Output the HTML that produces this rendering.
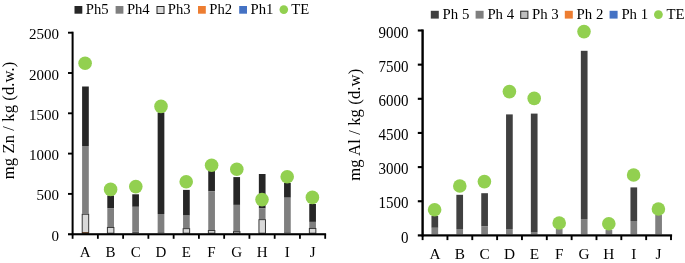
<!DOCTYPE html>
<html><head><meta charset="utf-8"><title>Charts</title>
<style>
html,body{margin:0;padding:0;background:#fff;}
body{width:685px;height:263px;overflow:hidden;font-family:'Liberation Serif', serif;}
svg{display:block;}
svg text{font-family:"Liberation Serif",serif;fill:#000;}
</style></head><body>
<svg width="685" height="263" viewBox="0 0 685 263">
<rect x="0" y="0" width="685" height="263" fill="#ffffff"/>
<rect x="74.50" y="6.00" width="7.80" height="7.70" fill="#262626"/>
<rect x="115.60" y="6.00" width="7.80" height="7.70" fill="#7f7f7f"/>
<rect x="157.00" y="6.5" width="7" height="7" fill="#d9d9d9" stroke="#262626" stroke-width="1"/>
<rect x="198.00" y="6.00" width="7.80" height="7.70" fill="#ed7d31"/>
<rect x="239.20" y="6.00" width="7.80" height="7.70" fill="#4472c4"/>
<circle cx="283.80" cy="9.60" r="4.30" fill="#92d050"/>
<rect x="82.10" y="86.50" width="6.70" height="59.50" fill="#262626"/>
<rect x="82.10" y="146.00" width="6.70" height="67.80" fill="#7f7f7f"/>
<rect x="82.20" y="214.25" width="6.50" height="18.95" fill="#d9d9d9" stroke="#303030" stroke-width="0.95"/>
<rect x="107.30" y="195.50" width="6.70" height="12.60" fill="#262626"/>
<rect x="107.30" y="208.10" width="6.70" height="18.90" fill="#7f7f7f"/>
<rect x="107.40" y="227.45" width="6.50" height="5.75" fill="#d9d9d9" stroke="#303030" stroke-width="0.95"/>
<rect x="132.25" y="194.30" width="6.70" height="12.50" fill="#262626"/>
<rect x="132.25" y="206.80" width="6.70" height="24.80" fill="#7f7f7f"/>
<rect x="132.25" y="231.60" width="6.70" height="1.60" fill="#555555"/>
<rect x="157.65" y="112.40" width="6.70" height="101.60" fill="#262626"/>
<rect x="157.65" y="214.00" width="6.70" height="18.20" fill="#7f7f7f"/>
<rect x="157.65" y="232.20" width="6.70" height="1.00" fill="#555555"/>
<rect x="183.05" y="189.90" width="6.70" height="25.70" fill="#262626"/>
<rect x="183.05" y="215.60" width="6.70" height="12.60" fill="#7f7f7f"/>
<rect x="183.15" y="228.65" width="6.50" height="4.55" fill="#d9d9d9" stroke="#303030" stroke-width="0.95"/>
<rect x="208.25" y="171.00" width="6.70" height="20.40" fill="#262626"/>
<rect x="208.25" y="191.40" width="6.70" height="38.70" fill="#7f7f7f"/>
<rect x="208.35" y="230.55" width="6.50" height="2.65" fill="#d9d9d9" stroke="#303030" stroke-width="0.95"/>
<rect x="233.35" y="177.10" width="6.70" height="27.80" fill="#262626"/>
<rect x="233.35" y="204.90" width="6.70" height="26.30" fill="#7f7f7f"/>
<rect x="233.45" y="231.65" width="6.50" height="1.55" fill="#d9d9d9" stroke="#303030" stroke-width="0.95"/>
<rect x="258.85" y="174.00" width="6.70" height="34.40" fill="#262626"/>
<rect x="258.85" y="208.40" width="6.70" height="10.80" fill="#7f7f7f"/>
<rect x="258.95" y="219.65" width="6.50" height="13.55" fill="#d9d9d9" stroke="#303030" stroke-width="0.95"/>
<rect x="284.05" y="183.00" width="6.70" height="14.70" fill="#262626"/>
<rect x="284.05" y="197.70" width="6.70" height="34.50" fill="#7f7f7f"/>
<rect x="284.05" y="232.20" width="6.70" height="1.00" fill="#555555"/>
<rect x="309.25" y="204.00" width="6.70" height="17.90" fill="#262626"/>
<rect x="309.25" y="221.90" width="6.70" height="6.10" fill="#7f7f7f"/>
<rect x="309.35" y="228.45" width="6.50" height="4.75" fill="#d9d9d9" stroke="#303030" stroke-width="0.95"/>
<rect x="82.10" y="232.30" width="6.70" height="0.90" fill="#4a2000"/>
<rect x="71.60" y="31.70" width="2.00" height="203.50" fill="#000"/>
<rect x="68.00" y="233.20" width="258.10" height="2.10" fill="#000"/>
<rect x="68.00" y="192.95" width="4.60" height="1.90" fill="#000"/>
<rect x="68.00" y="152.65" width="4.60" height="1.90" fill="#000"/>
<rect x="68.00" y="112.35" width="4.60" height="1.90" fill="#000"/>
<rect x="68.00" y="72.05" width="4.60" height="1.90" fill="#000"/>
<rect x="68.00" y="31.75" width="4.60" height="1.90" fill="#000"/>
<rect x="71.70" y="234.20" width="1.80" height="4.60" fill="#000"/>
<rect x="96.96" y="234.20" width="1.80" height="4.60" fill="#000"/>
<rect x="122.22" y="234.20" width="1.80" height="4.60" fill="#000"/>
<rect x="147.48" y="234.20" width="1.80" height="4.60" fill="#000"/>
<rect x="172.74" y="234.20" width="1.80" height="4.60" fill="#000"/>
<rect x="198.00" y="234.20" width="1.80" height="4.60" fill="#000"/>
<rect x="223.26" y="234.20" width="1.80" height="4.60" fill="#000"/>
<rect x="248.52" y="234.20" width="1.80" height="4.60" fill="#000"/>
<rect x="273.78" y="234.20" width="1.80" height="4.60" fill="#000"/>
<rect x="299.04" y="234.20" width="1.80" height="4.60" fill="#000"/>
<rect x="324.30" y="234.20" width="1.80" height="4.60" fill="#000"/>
<circle cx="85.10" cy="63.20" r="6.80" fill="#92d050"/>
<circle cx="110.60" cy="189.40" r="6.80" fill="#92d050"/>
<circle cx="135.80" cy="186.60" r="6.80" fill="#92d050"/>
<circle cx="161.00" cy="106.40" r="6.80" fill="#92d050"/>
<circle cx="186.20" cy="181.80" r="6.80" fill="#92d050"/>
<circle cx="211.60" cy="165.20" r="6.80" fill="#92d050"/>
<circle cx="236.80" cy="169.20" r="6.80" fill="#92d050"/>
<circle cx="262.00" cy="199.60" r="6.80" fill="#92d050"/>
<circle cx="287.20" cy="176.80" r="6.80" fill="#92d050"/>
<circle cx="312.40" cy="197.40" r="6.80" fill="#92d050"/>
<rect x="430.80" y="10.80" width="8.00" height="7.80" fill="#404040"/>
<rect x="475.60" y="10.80" width="8.00" height="7.80" fill="#7f7f7f"/>
<rect x="520.70" y="11.2" width="7.2" height="7.2" fill="#bfbfbf" stroke="#262626" stroke-width="1"/>
<rect x="564.80" y="10.80" width="8.00" height="7.80" fill="#ed7d31"/>
<rect x="609.60" y="10.80" width="8.00" height="7.80" fill="#4472c4"/>
<circle cx="658.40" cy="14.60" r="4.40" fill="#92d050"/>
<rect x="431.45" y="216.00" width="6.70" height="11.80" fill="#404040"/>
<rect x="431.45" y="227.80" width="6.70" height="6.60" fill="#7f7f7f"/>
<rect x="456.35" y="194.80" width="6.70" height="34.20" fill="#404040"/>
<rect x="456.35" y="229.00" width="6.70" height="5.40" fill="#7f7f7f"/>
<rect x="481.25" y="193.20" width="6.70" height="33.30" fill="#404040"/>
<rect x="481.25" y="226.50" width="6.70" height="7.90" fill="#7f7f7f"/>
<rect x="506.05" y="114.40" width="6.70" height="114.60" fill="#404040"/>
<rect x="506.05" y="229.00" width="6.70" height="5.40" fill="#7f7f7f"/>
<rect x="530.85" y="113.60" width="6.70" height="118.40" fill="#404040"/>
<rect x="530.85" y="232.00" width="6.70" height="2.40" fill="#7f7f7f"/>
<rect x="555.85" y="229.00" width="6.70" height="5.40" fill="#7f7f7f"/>
<rect x="580.85" y="50.80" width="6.70" height="168.20" fill="#404040"/>
<rect x="580.85" y="219.00" width="6.70" height="15.40" fill="#7f7f7f"/>
<rect x="605.55" y="230.00" width="6.70" height="4.40" fill="#7f7f7f"/>
<rect x="630.45" y="187.40" width="6.70" height="33.60" fill="#404040"/>
<rect x="630.45" y="221.00" width="6.70" height="13.40" fill="#7f7f7f"/>
<rect x="655.25" y="215.00" width="6.70" height="19.40" fill="#7f7f7f"/>
<rect x="421.40" y="29.45" width="2.40" height="207.05" fill="#000"/>
<rect x="417.80" y="234.30" width="254.30" height="2.20" fill="#000"/>
<rect x="417.80" y="200.20" width="4.80" height="2.10" fill="#000"/>
<rect x="417.80" y="166.05" width="4.80" height="2.10" fill="#000"/>
<rect x="417.80" y="131.90" width="4.80" height="2.10" fill="#000"/>
<rect x="417.80" y="97.75" width="4.80" height="2.10" fill="#000"/>
<rect x="417.80" y="63.60" width="4.80" height="2.10" fill="#000"/>
<rect x="417.80" y="29.45" width="4.80" height="2.10" fill="#000"/>
<rect x="421.65" y="235.40" width="1.90" height="4.70" fill="#000"/>
<rect x="446.49" y="235.40" width="1.90" height="4.70" fill="#000"/>
<rect x="471.33" y="235.40" width="1.90" height="4.70" fill="#000"/>
<rect x="496.17" y="235.40" width="1.90" height="4.70" fill="#000"/>
<rect x="521.01" y="235.40" width="1.90" height="4.70" fill="#000"/>
<rect x="545.85" y="235.40" width="1.90" height="4.70" fill="#000"/>
<rect x="570.69" y="235.40" width="1.90" height="4.70" fill="#000"/>
<rect x="595.53" y="235.40" width="1.90" height="4.70" fill="#000"/>
<rect x="620.37" y="235.40" width="1.90" height="4.70" fill="#000"/>
<rect x="645.21" y="235.40" width="1.90" height="4.70" fill="#000"/>
<rect x="670.05" y="235.40" width="1.90" height="4.70" fill="#000"/>
<circle cx="434.60" cy="209.80" r="6.80" fill="#92d050"/>
<circle cx="459.80" cy="186.00" r="6.80" fill="#92d050"/>
<circle cx="484.40" cy="181.60" r="6.80" fill="#92d050"/>
<circle cx="509.40" cy="91.60" r="6.80" fill="#92d050"/>
<circle cx="534.20" cy="98.40" r="6.80" fill="#92d050"/>
<circle cx="559.20" cy="223.00" r="6.80" fill="#92d050"/>
<circle cx="584.00" cy="31.60" r="6.80" fill="#92d050"/>
<circle cx="608.80" cy="223.80" r="6.80" fill="#92d050"/>
<circle cx="633.60" cy="175.00" r="6.80" fill="#92d050"/>
<circle cx="658.40" cy="209.00" r="6.80" fill="#92d050"/>
<g style="will-change:transform;filter:grayscale(1);">
<text x="85.80" y="13.60" font-size="14.67" text-anchor="start">Ph5</text>
<text x="126.90" y="13.60" font-size="14.67" text-anchor="start">Ph4</text>
<text x="167.80" y="13.60" font-size="14.67" text-anchor="start">Ph3</text>
<text x="209.30" y="13.60" font-size="14.67" text-anchor="start">Ph2</text>
<text x="250.50" y="13.60" font-size="14.67" text-anchor="start">Ph1</text>
<text x="291.30" y="13.60" font-size="14.67" text-anchor="start">TE</text>
<text x="59.00" y="240.70" font-size="15" text-anchor="end">0</text>
<text x="59.00" y="200.40" font-size="15" text-anchor="end">500</text>
<text x="59.00" y="160.10" font-size="15" text-anchor="end">1000</text>
<text x="59.00" y="119.80" font-size="15" text-anchor="end">1500</text>
<text x="59.00" y="79.50" font-size="15" text-anchor="end">2000</text>
<text x="59.00" y="39.20" font-size="15" text-anchor="end">2500</text>
<text x="85.23" y="256.90" font-size="15" text-anchor="middle">A</text>
<text x="110.49" y="256.90" font-size="15" text-anchor="middle">B</text>
<text x="135.75" y="256.90" font-size="15" text-anchor="middle">C</text>
<text x="161.01" y="256.90" font-size="15" text-anchor="middle">D</text>
<text x="186.27" y="256.90" font-size="15" text-anchor="middle">E</text>
<text x="211.53" y="256.90" font-size="15" text-anchor="middle">F</text>
<text x="236.79" y="256.90" font-size="15" text-anchor="middle">G</text>
<text x="262.05" y="256.90" font-size="15" text-anchor="middle">H</text>
<text x="287.31" y="256.90" font-size="15" text-anchor="middle">I</text>
<text x="312.57" y="256.90" font-size="15" text-anchor="middle">J</text>
<text transform="translate(13.8,120.4) rotate(-90)" font-size="16.6" letter-spacing="0.1" text-anchor="middle">mg Zn / kg (d.w.)</text>
<text x="442.60" y="18.60" font-size="14.8" text-anchor="start">Ph 5</text>
<text x="487.40" y="18.60" font-size="14.8" text-anchor="start">Ph 4</text>
<text x="532.00" y="18.60" font-size="14.8" text-anchor="start">Ph 3</text>
<text x="576.60" y="18.60" font-size="14.8" text-anchor="start">Ph 2</text>
<text x="621.40" y="18.60" font-size="14.8" text-anchor="start">Ph 1</text>
<text x="666.50" y="18.60" font-size="14.8" text-anchor="start">TE</text>
<text transform="translate(408.5,242.50) scale(1,1.05)" font-size="15" text-anchor="end">0</text>
<text transform="translate(408.5,208.35) scale(1,1.05)" font-size="15" text-anchor="end">1500</text>
<text transform="translate(408.5,174.20) scale(1,1.05)" font-size="15" text-anchor="end">3000</text>
<text transform="translate(408.5,140.05) scale(1,1.05)" font-size="15" text-anchor="end">4500</text>
<text transform="translate(408.5,105.90) scale(1,1.05)" font-size="15" text-anchor="end">6000</text>
<text transform="translate(408.5,71.75) scale(1,1.05)" font-size="15" text-anchor="end">7500</text>
<text transform="translate(408.5,37.60) scale(1,1.05)" font-size="15" text-anchor="end">9000</text>
<text x="435.02" y="258.60" font-size="15.3" text-anchor="middle">A</text>
<text x="459.86" y="258.60" font-size="15.3" text-anchor="middle">B</text>
<text x="484.70" y="258.60" font-size="15.3" text-anchor="middle">C</text>
<text x="509.54" y="258.60" font-size="15.3" text-anchor="middle">D</text>
<text x="534.38" y="258.60" font-size="15.3" text-anchor="middle">E</text>
<text x="559.22" y="258.60" font-size="15.3" text-anchor="middle">F</text>
<text x="584.06" y="258.60" font-size="15.3" text-anchor="middle">G</text>
<text x="608.90" y="258.60" font-size="15.3" text-anchor="middle">H</text>
<text x="633.74" y="258.60" font-size="15.3" text-anchor="middle">I</text>
<text x="658.58" y="258.60" font-size="15.3" text-anchor="middle">J</text>
<text transform="translate(359.6,124.7) rotate(-90)" font-size="16.6" letter-spacing="0.12" text-anchor="middle">mg Al / kg (d.w)</text>
</g>
</svg>
</body></html>
